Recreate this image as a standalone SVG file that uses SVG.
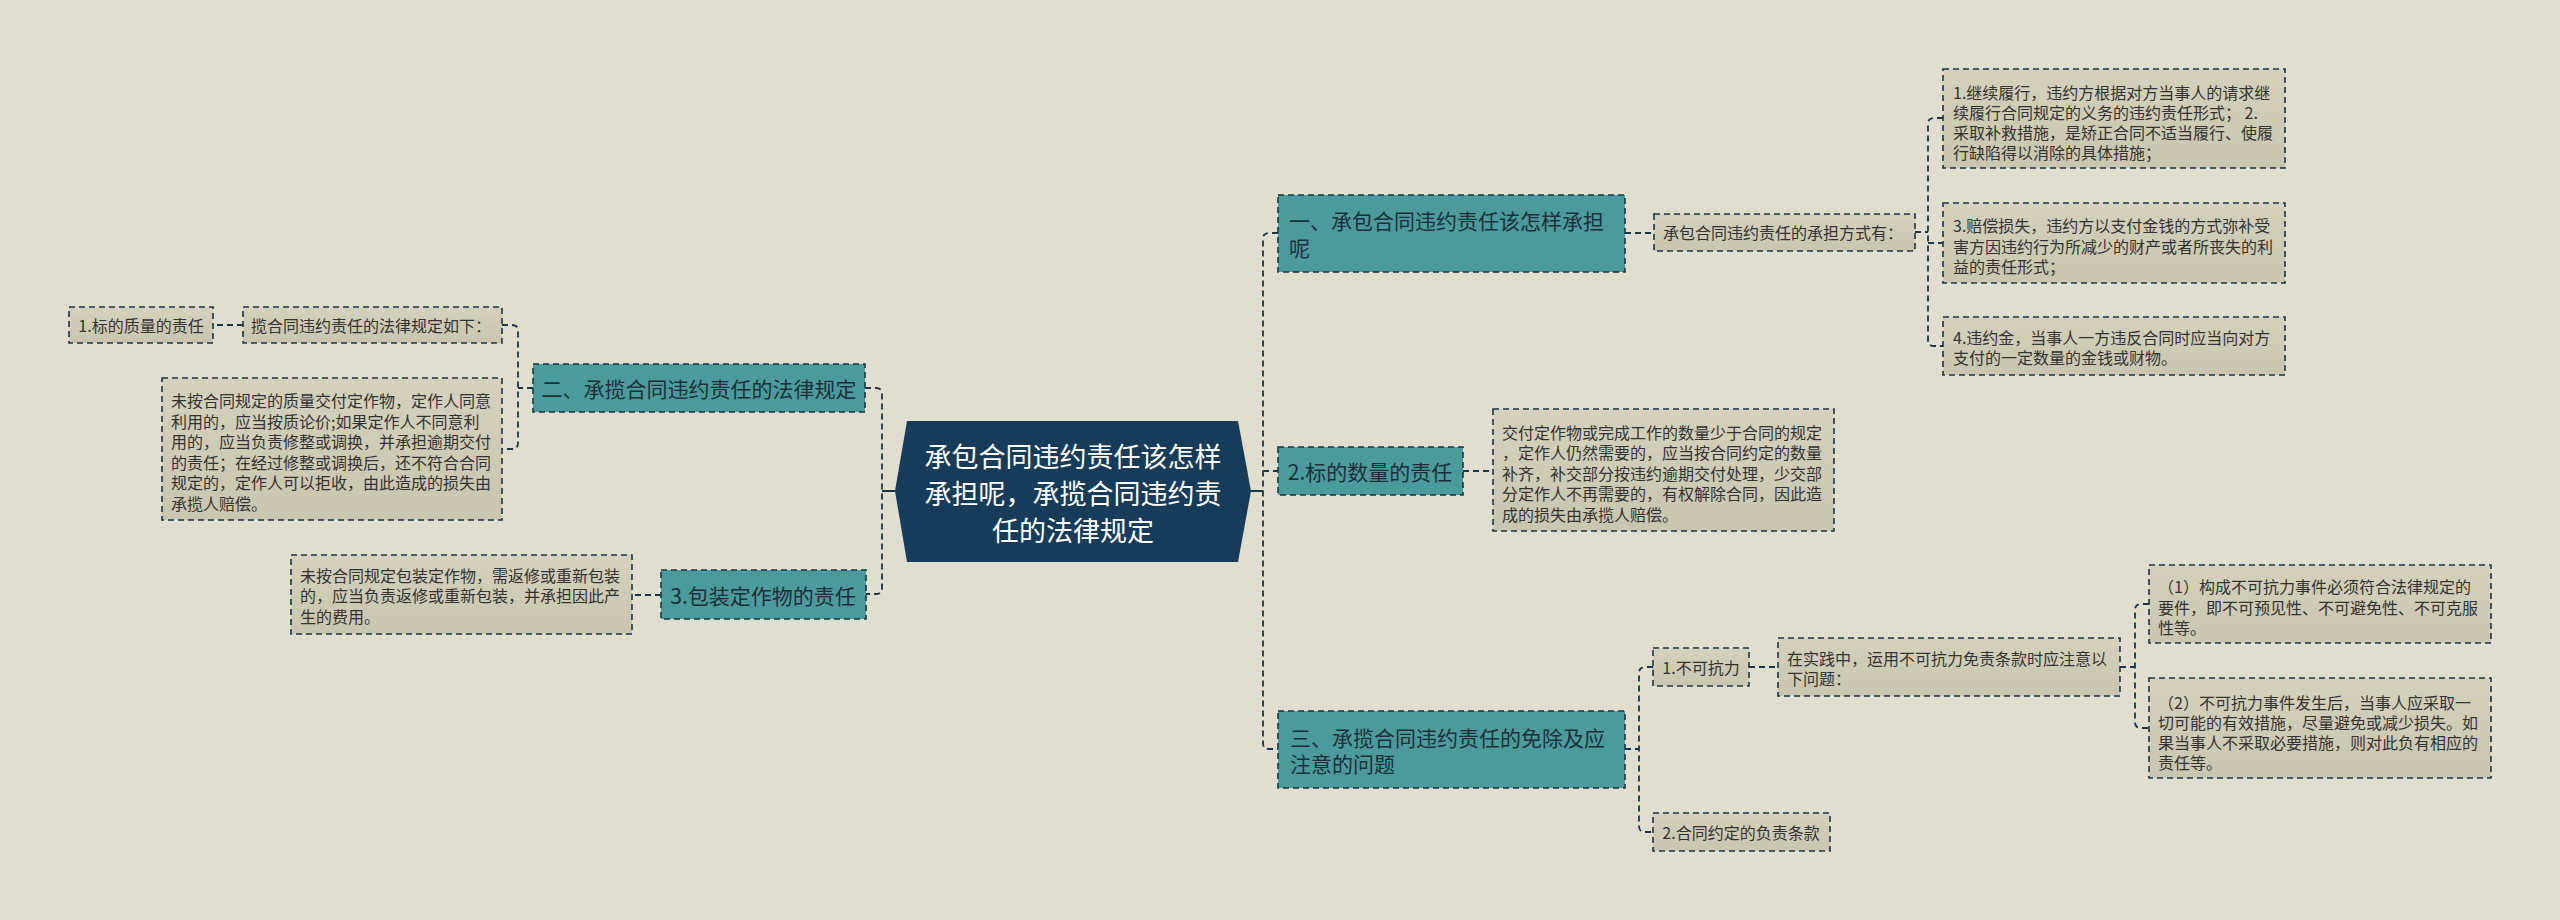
<svg xmlns="http://www.w3.org/2000/svg" width="2560" height="920" viewBox="0 0 2560 920">
<defs>
<linearGradient id="lg" x1="0" y1="0" x2="0" y2="1">
<stop offset="0" stop-color="#d4d1bc"/>
<stop offset="1" stop-color="#c9c6af"/>
</linearGradient>
<style>
text{font-family:"Noto Sans CJK SC","Noto Sans",sans-serif;dominant-baseline:central}
.leaf{fill:url(#lg);stroke:#1c3547;stroke-width:1.6;stroke-dasharray:6 4}
.teal{fill:#4b9b9c;stroke:#1c3547;stroke-width:1.6;stroke-dasharray:6 4}
.t16{font-size:16px;fill:#333333}
.t21{font-size:21px;fill:#1d2f3a}
.c{font-size:27px;fill:#ffffff;text-anchor:middle}
.mid{text-anchor:middle}
.conn{fill:none;stroke:#1c3547;stroke-width:1.8;stroke-dasharray:6 4}
.solid{fill:none;stroke:#1c3547;stroke-width:2}
</style>
</defs>
<rect x="0" y="0" width="2560" height="920" fill="#dfdecf"/>

<g id="connectors">
<path class="solid" d="M882,491 H895"/>
<path class="solid" d="M1251,491 H1263"/>
<path class="conn" d="M865,388 H876 Q882,388 882,394 V588 Q882,594 876,594 H866"/>
<path class="conn" d="M533,388 H518"/>
<path class="conn" d="M502,325 H512 Q518,325 518,331 V443 Q518,449 512,449 H502"/>
<path class="conn" d="M243,325 H213"/>
<path class="conn" d="M661,595 H632"/>
<path class="conn" d="M1278,233 H1269 Q1263,233 1263,239 V743 Q1263,749 1269,749 H1278"/>
<path class="conn" d="M1263,471 H1278"/>
<path class="conn" d="M1625,233 H1654"/>
<path class="conn" d="M1915,232 H1928"/>
<path class="conn" d="M1943,118 H1934 Q1928,118 1928,124 V340 Q1928,346 1934,346 H1943"/>
<path class="conn" d="M1928,243 H1943"/>
<path class="conn" d="M1463,471 H1493"/>
<path class="conn" d="M1625,749 H1639"/>
<path class="conn" d="M1653,667 H1645 Q1639,667 1639,673 V826 Q1639,832 1645,832 H1653"/>
<path class="conn" d="M1749,667 H1778"/>
<path class="conn" d="M2120,667 H2135"/>
<path class="conn" d="M2149,604 H2141 Q2135,604 2135,610 V722 Q2135,728 2141,728 H2149"/>
</g>

<g id="center">
<polygon points="907,421 1238,421 1251,491 1238,562 907,562 895,491" fill="#173c5a"/>
<text class="c"><tspan x="1073" y="455">承包合同违约责任该怎样</tspan><tspan x="1073" y="492">承担呢，承揽合同违约责</tspan><tspan x="1073" y="529">任的法律规定</tspan></text>
</g>

<g id="n1">
<rect class="teal" x="1278" y="195" width="347" height="77"/>
<text class="t21"><tspan x="1289" y="220">一、承包合同违约责任该怎样承担</tspan><tspan x="1289" y="247">呢</tspan></text>
</g>
<g id="n1a">
<rect class="leaf" x="1654" y="214" width="261" height="37"/>
<text class="t16" x="1663" y="232">承包合同违约责任的承担方式有：</text>
</g>
<g id="n1a1">
<rect class="leaf" x="1943" y="69" width="342" height="99"/>
<text class="t16"><tspan x="1953" y="92">1.继续履行，违约方根据对方当事人的请求继</tspan><tspan x="1953" y="112">续履行合同规定的义务的违约责任形式； 2.</tspan><tspan x="1953" y="132">采取补救措施，是矫正合同不适当履行、使履</tspan><tspan x="1953" y="152">行缺陷得以消除的具体措施；</tspan></text>
</g>
<g id="n1a2">
<rect class="leaf" x="1943" y="203" width="342" height="80"/>
<text class="t16"><tspan x="1953" y="225">3.赔偿损失，违约方以支付金钱的方式弥补受</tspan><tspan x="1953" y="246">害方因违约行为所减少的财产或者所丧失的利</tspan><tspan x="1953" y="266">益的责任形式；</tspan></text>
</g>
<g id="n1a3">
<rect class="leaf" x="1943" y="317" width="342" height="58"/>
<text class="t16"><tspan x="1953" y="337">4.违约金，当事人一方违反合同时应当向对方</tspan><tspan x="1953" y="357">支付的一定数量的金钱或财物。</tspan></text>
</g>

<g id="n2">
<rect class="teal" x="1278" y="447" width="185" height="48"/>
<text class="t21 mid" x="1370" y="471">2.标的数量的责任</text>
</g>
<g id="n2a">
<rect class="leaf" x="1493" y="409" width="341" height="122"/>
<text class="t16"><tspan x="1502" y="432">交付定作物或完成工作的数量少于合同的规定</tspan><tspan x="1502" y="452">，定作人仍然需要的，应当按合同约定的数量</tspan><tspan x="1502" y="473">补齐，补交部分按违约逾期交付处理，少交部</tspan><tspan x="1502" y="493">分定作人不再需要的，有权解除合同，因此造</tspan><tspan x="1502" y="514">成的损失由承揽人赔偿。</tspan></text>
</g>

<g id="n3">
<rect class="teal" x="1278" y="711" width="347" height="77"/>
<text class="t21"><tspan x="1290" y="737">三、承揽合同违约责任的免除及应</tspan><tspan x="1290" y="763">注意的问题</tspan></text>
</g>
<g id="n3a">
<rect class="leaf" x="1653" y="648" width="96" height="38"/>
<text class="t16 mid" x="1701" y="667">1.不可抗力</text>
</g>
<g id="n3a1">
<rect class="leaf" x="1778" y="638" width="342" height="58"/>
<text class="t16"><tspan x="1787" y="658">在实践中，运用不可抗力免责条款时应注意以</tspan><tspan x="1787" y="678">下问题：</tspan></text>
</g>
<g id="n3a1a">
<rect class="leaf" x="2149" y="565" width="342" height="78"/>
<text class="t16"><tspan x="2158" y="586">（1）构成不可抗力事件必须符合法律规定的</tspan><tspan x="2158" y="607">要件，即不可预见性、不可避免性、不可克服</tspan><tspan x="2158" y="627">性等。</tspan></text>
</g>
<g id="n3a1b">
<rect class="leaf" x="2149" y="678" width="342" height="100"/>
<text class="t16"><tspan x="2158" y="702">（2）不可抗力事件发生后，当事人应采取一</tspan><tspan x="2158" y="722">切可能的有效措施，尽量避免或减少损失。如</tspan><tspan x="2158" y="742">果当事人不采取必要措施，则对此负有相应的</tspan><tspan x="2158" y="762">责任等。</tspan></text>
</g>
<g id="n3b">
<rect class="leaf" x="1653" y="813" width="177" height="38"/>
<text class="t16 mid" x="1741" y="832">2.合同约定的负责条款</text>
</g>

<g id="l1">
<rect class="teal" x="533" y="364" width="332" height="48"/>
<text class="t21 mid" x="699" y="388">二、承揽合同违约责任的法律规定</text>
</g>
<g id="l1a">
<rect class="leaf" x="243" y="307" width="259" height="36"/>
<text class="t16" x="251" y="325">揽合同违约责任的法律规定如下：</text>
</g>
<g id="l1a1">
<rect class="leaf" x="69" y="307" width="144" height="36"/>
<text class="t16 mid" x="141" y="325">1.标的质量的责任</text>
</g>
<g id="l1b">
<rect class="leaf" x="162" y="378" width="340" height="142"/>
<text class="t16"><tspan x="171" y="400">未按合同规定的质量交付定作物，定作人同意</tspan><tspan x="171" y="421">利用的，应当按质论价;如果定作人不同意利</tspan><tspan x="171" y="441">用的，应当负责修整或调换，并承担逾期交付</tspan><tspan x="171" y="462">的责任；在经过修整或调换后，还不符合合同</tspan><tspan x="171" y="482">规定的，定作人可以拒收，由此造成的损失由</tspan><tspan x="171" y="503">承揽人赔偿。</tspan></text>
</g>
<g id="l2">
<rect class="teal" x="661" y="570" width="205" height="49"/>
<text class="t21 mid" x="763" y="595">3.包装定作物的责任</text>
</g>
<g id="l2a">
<rect class="leaf" x="291" y="555" width="341" height="79"/>
<text class="t16"><tspan x="300" y="575">未按合同规定包装定作物，需返修或重新包装</tspan><tspan x="300" y="595">的，应当负责返修或重新包装，并承担因此产</tspan><tspan x="300" y="616">生的费用。</tspan></text>
</g>
</svg>
